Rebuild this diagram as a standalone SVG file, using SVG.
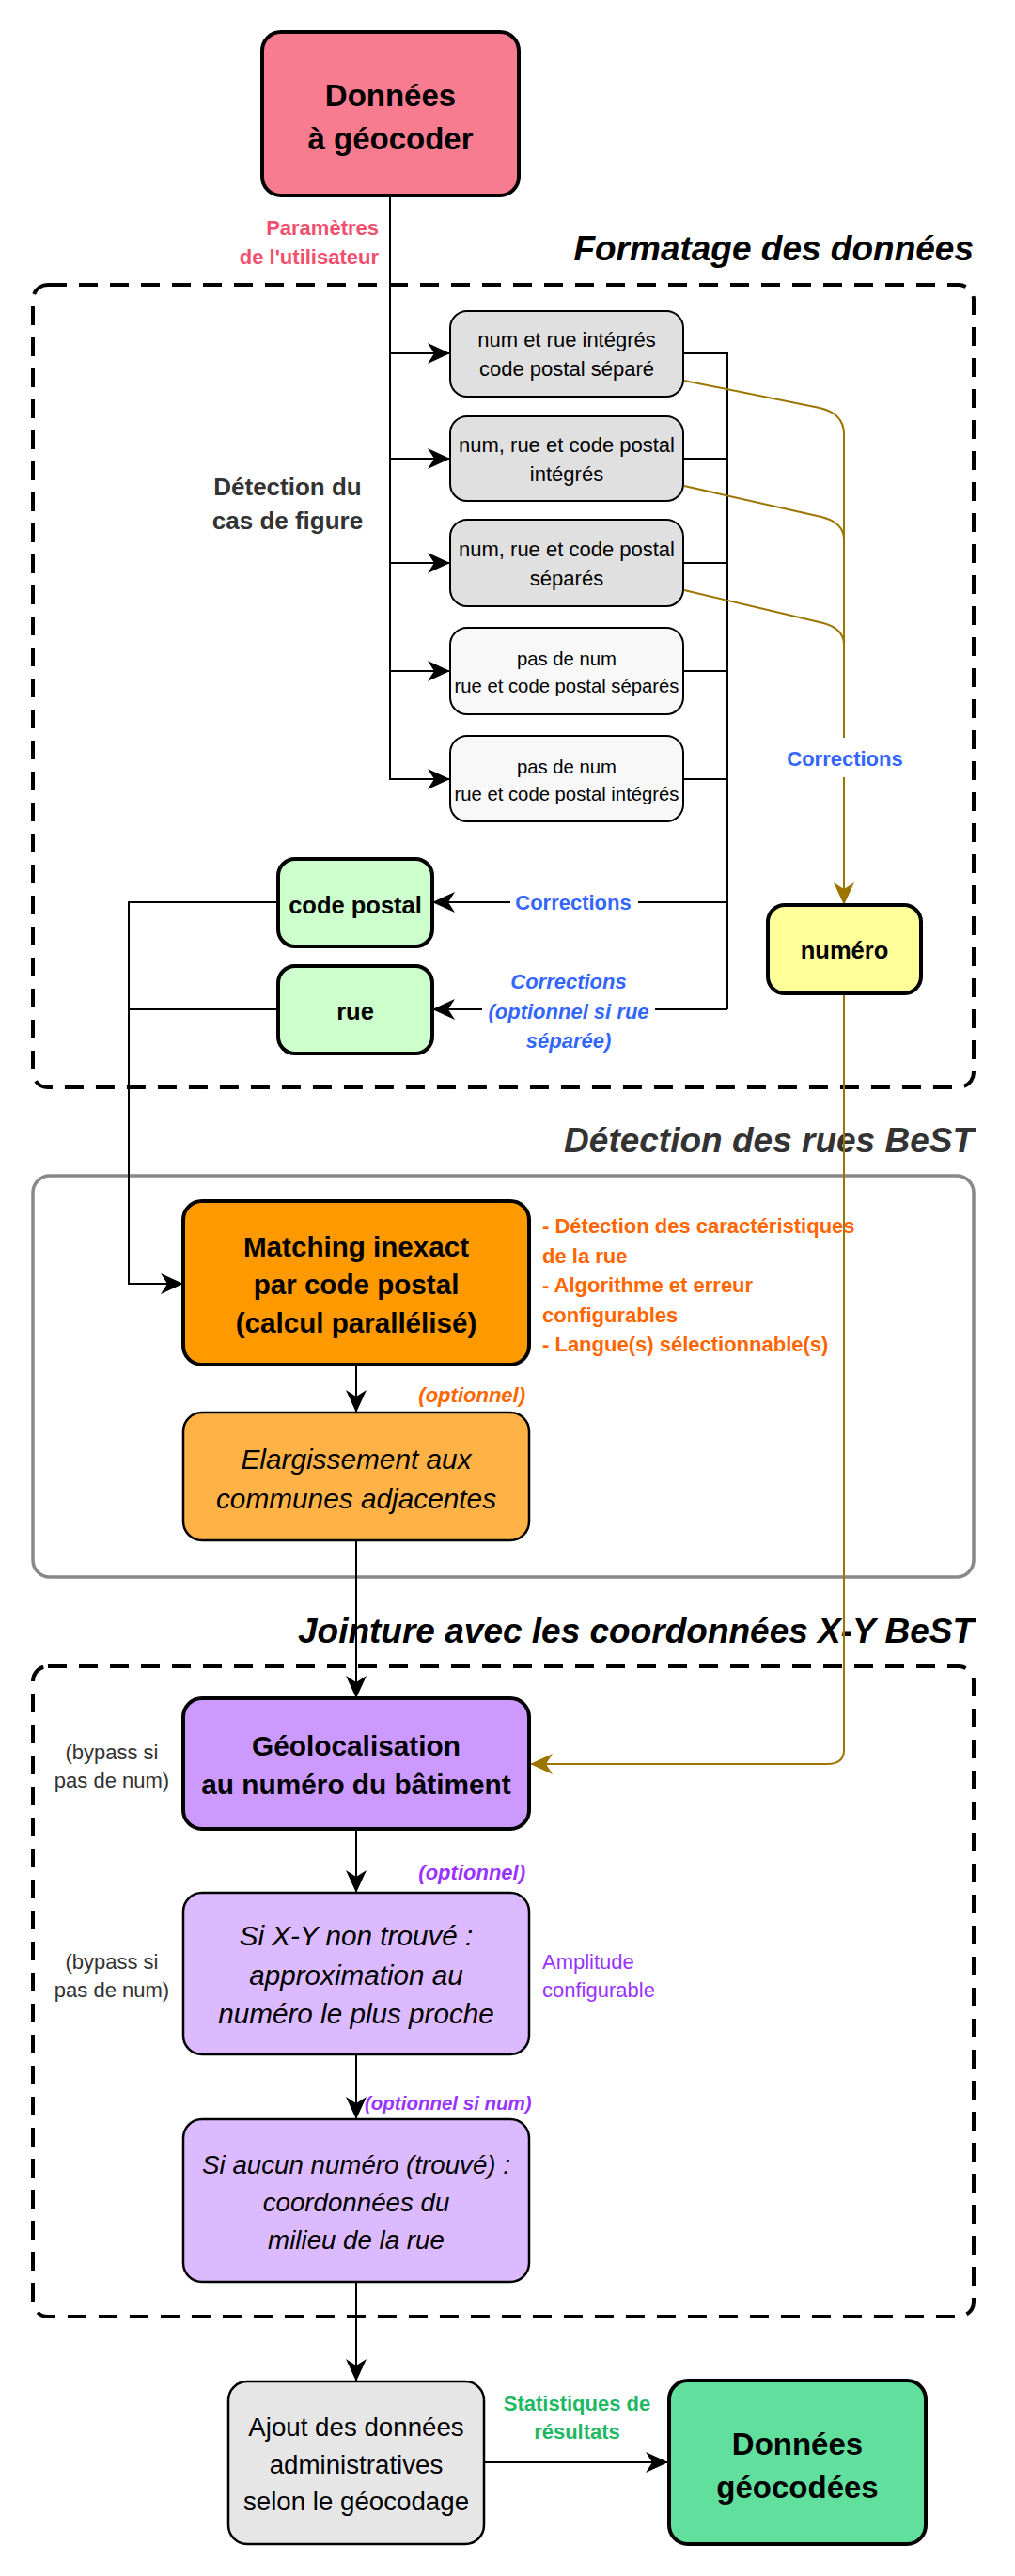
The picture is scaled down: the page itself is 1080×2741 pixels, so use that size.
<svg xmlns="http://www.w3.org/2000/svg" width="1080" height="2741" viewBox="0 0 1080 2741">
<style>
text{font-family:'Liberation Sans',Arial,Helvetica,sans-serif;}
.b{font-weight:bold}
.i{font-style:italic}
.m{text-anchor:middle}
.e{text-anchor:end}
.c{fill:none;stroke:#000;stroke-width:2}
.g{fill:none;stroke:#9C7500;stroke-width:2}
.dash{fill:none;stroke:#000;stroke-width:4;stroke-dasharray:20 13}
</style>
<defs>
<marker id="ab" markerUnits="userSpaceOnUse" markerWidth="24" markerHeight="22" refX="24" refY="11" orient="auto"><path d="M0,0 L24,11 L0,22 L7,11 Z" fill="#000"/></marker>
<marker id="ag" markerUnits="userSpaceOnUse" markerWidth="24" markerHeight="22" refX="24" refY="11" orient="auto"><path d="M0,0 L24,11 L0,22 L7,11 Z" fill="#9C7500"/></marker>
</defs>
<rect width="1080" height="2741" fill="#fff"/>

<g id="containers">
<rect class="dash" x="35" y="303" width="1001" height="854" rx="16"/>
<rect x="35" y="1251" width="1001" height="427" rx="18" fill="none" stroke="#888" stroke-width="3.5"/>
<rect class="dash" x="35" y="1773" width="1001" height="692" rx="16"/>
<text class="b i e" x="1036" y="277" font-size="37">Formatage des données</text>
<text class="b i e" x="1036" y="1226" font-size="37" fill="#333">Détection des rues BeST</text>
<text class="b i e" x="1036" y="1748" font-size="37">Jointure avec les coordonnées X-Y BeST</text>
</g>

<g id="connectors">
<path class="c" d="M415,208 V829 H479" stroke-width="2.5" marker-end="url(#ab)"/>
<path class="c" d="M415,376 H479" marker-end="url(#ab)"/>
<path class="c" d="M415,488 H479" marker-end="url(#ab)"/>
<path class="c" d="M415,599 H479" marker-end="url(#ab)"/>
<path class="c" d="M415,714 H479" marker-end="url(#ab)"/>
<path class="c" d="M727,376 H774 V1074" stroke-width="2.5"/>
<path class="c" d="M727,488 H774"/>
<path class="c" d="M727,599 H774"/>
<path class="c" d="M727,714 H774"/>
<path class="c" d="M727,829 H774"/>
<path class="c" d="M774,960 H679"/>
<path class="c" d="M543,960 H460" marker-end="url(#ab)"/>
<path class="c" d="M774,1074 H697" stroke-width="3"/>
<path class="c" d="M513,1074 H460" stroke-width="3" marker-end="url(#ab)"/>
<path class="c" d="M296,960 H137 V1366 H195" marker-end="url(#ab)"/>
<path class="c" d="M296,1074 H137"/>
<path class="c" d="M379,1452 V1503" marker-end="url(#ab)"/>
<path class="c" d="M379,1639 V1807" marker-end="url(#ab)"/>
<path class="c" d="M379,1946 V2014" marker-end="url(#ab)"/>
<path class="c" d="M379,2186 V2255" marker-end="url(#ab)"/>
<path class="c" d="M379,2428 V2534" marker-end="url(#ab)"/>
<path class="c" d="M515,2620 H711" marker-end="url(#ab)"/>
<path class="g" d="M728,405 L872,434 Q898,440 898,462 V785"/>
<path class="g" d="M728,517 L874,550 Q898,556 898,574"/>
<path class="g" d="M728,628 L876,663 Q898,669 898,686"/>
<path class="g" d="M898,827 V963" marker-end="url(#ag)"/>
<path class="g" d="M898,1057 V1862 Q898,1877 880,1877 H564" marker-end="url(#ag)"/>
<text class="b e" x="403" y="250" font-size="22" fill="#F24E6E">Paramètres</text>
<text class="b e" x="403" y="281" font-size="22" fill="#F24E6E">de l'utilisateur</text>
<text class="b m" x="306" y="527" font-size="26" fill="#333">Détection du</text>
<text class="b m" x="306" y="563" font-size="26" fill="#333">cas de figure</text>
<text class="b m" x="899" y="815" font-size="22" fill="#3366FF">Corrections</text>
<text class="b m" x="610" y="968" font-size="22" fill="#3366FF">Corrections</text>
<text class="b i m" x="605" y="1052" font-size="22" fill="#3366FF">Corrections</text>
<text class="b i m" x="605" y="1084" font-size="22" fill="#3366FF">(optionnel si rue</text>
<text class="b i m" x="605" y="1115" font-size="22" fill="#3366FF">séparée)</text>
<text class="b" x="577" y="1312" font-size="22" fill="#FF6600">- Détection des caractéristiques</text>
<text class="b" x="577" y="1344" font-size="22" fill="#FF6600">de la rue</text>
<text class="b" x="577" y="1375" font-size="22" fill="#FF6600">- Algorithme et erreur</text>
<text class="b" x="577" y="1407" font-size="22" fill="#FF6600">configurables</text>
<text class="b" x="577" y="1438" font-size="22" fill="#FF6600">- Langue(s) sélectionnable(s)</text>
<text class="b i e" x="559" y="1492" font-size="22" fill="#FF6600">(optionnel)</text>
<text class="m" x="119" y="1872" font-size="22" fill="#333">(bypass si</text>
<text class="m" x="119" y="1902" font-size="22" fill="#333">pas de num)</text>
<text class="b i e" x="559" y="2000" font-size="22" fill="#9933FF">(optionnel)</text>
<text class="m" x="119" y="2095" font-size="22" fill="#333">(bypass si</text>
<text class="m" x="119" y="2125" font-size="22" fill="#333">pas de num)</text>
<text x="577" y="2095" font-size="22" fill="#9933FF">Amplitude</text>
<text x="577" y="2125" font-size="22" fill="#9933FF">configurable</text>
<text class="b i" x="388" y="2245" font-size="20.5" fill="#9933FF">(optionnel si num)</text>
<text class="b m" x="614" y="2565" font-size="22" fill="#20B863">Statistiques de</text>
<text class="b m" x="614" y="2595" font-size="22" fill="#20B863">résultats</text>
</g>

<g id="n-donnees">
<rect x="279" y="34" width="273" height="174" rx="20" fill="#F87C8F" stroke="#000" stroke-width="4"/>
<text class="b m" x="415.5" y="113" font-size="33">Données</text>
<text class="b m" x="415.5" y="159" font-size="33">à géocoder</text>
</g>
<g id="n-case1">
<rect x="479" y="331" width="248" height="91" rx="18" fill="#E0E0E0" stroke="#000" stroke-width="2"/>
<text class="m" x="603" y="369" font-size="22">num et rue intégrés</text>
<text class="m" x="603" y="400" font-size="22">code postal séparé</text>
</g>
<g id="n-case2">
<rect x="479" y="443" width="248" height="90" rx="18" fill="#E0E0E0" stroke="#000" stroke-width="2"/>
<text class="m" x="603" y="481" font-size="22">num, rue et code postal</text>
<text class="m" x="603" y="512" font-size="22">intégrés</text>
</g>
<g id="n-case3">
<rect x="479" y="553" width="248" height="92" rx="18" fill="#E0E0E0" stroke="#000" stroke-width="2"/>
<text class="m" x="603" y="592" font-size="22">num, rue et code postal</text>
<text class="m" x="603" y="623" font-size="22">séparés</text>
</g>
<g id="n-case4">
<rect x="479" y="668" width="248" height="92" rx="18" fill="#F8F8F8" stroke="#000" stroke-width="2"/>
<text class="m" x="603" y="708" font-size="20.3">pas de num</text>
<text class="m" x="603" y="737" font-size="20.3">rue et code postal séparés</text>
</g>
<g id="n-case5">
<rect x="479" y="783" width="248" height="91" rx="18" fill="#F8F8F8" stroke="#000" stroke-width="2"/>
<text class="m" x="603" y="823" font-size="20.3">pas de num</text>
<text class="m" x="603" y="852" font-size="20.3">rue et code postal intégrés</text>
</g>
<g id="n-codepostal">
<rect x="296" y="914" width="164" height="93" rx="18" fill="#CCFFCC" stroke="#000" stroke-width="4"/>
<text class="b m" x="378" y="972" font-size="25.5">code postal</text>
</g>
<g id="n-rue">
<rect x="296" y="1028" width="164" height="93" rx="18" fill="#CCFFCC" stroke="#000" stroke-width="4"/>
<text class="b m" x="378" y="1085" font-size="25.5">rue</text>
</g>
<g id="n-numero">
<rect x="817" y="963" width="163" height="94" rx="18" fill="#FFFF99" stroke="#000" stroke-width="4"/>
<text class="b m" x="898.5" y="1020" font-size="25.5">numéro</text>
</g>
<g id="n-matching">
<rect x="195" y="1278" width="368" height="174" rx="20" fill="#FF9900" stroke="#000" stroke-width="4"/>
<text class="b m" x="379" y="1337" font-size="29.6">Matching inexact</text>
<text class="b m" x="379" y="1377" font-size="29.6">par code postal</text>
<text class="b m" x="379" y="1418" font-size="29.6">(calcul parallélisé)</text>
</g>
<g id="n-elargissement">
<rect x="195" y="1503" width="368" height="136" rx="20" fill="#FFB347" stroke="#000" stroke-width="2.5"/>
<text class="i m" x="379" y="1563" font-size="29.8">Elargissement aux</text>
<text class="i m" x="379" y="1605" font-size="29.8">communes adjacentes</text>
</g>
<g id="n-geoloc">
<rect x="195" y="1807" width="368" height="139" rx="20" fill="#CC99FF" stroke="#000" stroke-width="4"/>
<text class="b m" x="379" y="1868" font-size="29.8">Géolocalisation</text>
<text class="b m" x="379" y="1909" font-size="29.8">au numéro du bâtiment</text>
</g>
<g id="n-sixy">
<rect x="195" y="2014" width="368" height="172" rx="20" fill="#DCBAFF" stroke="#000" stroke-width="2.5"/>
<text class="i m" x="379" y="2070" font-size="29.7">Si X-Y non trouvé :</text>
<text class="i m" x="379" y="2112" font-size="29.7">approximation au</text>
<text class="i m" x="379" y="2153" font-size="29.7">numéro le plus proche</text>
</g>
<g id="n-siaucun">
<rect x="195" y="2255" width="368" height="173" rx="20" fill="#DCBAFF" stroke="#000" stroke-width="2.5"/>
<text class="i m" x="379" y="2313" font-size="27.7">Si aucun numéro (trouvé) :</text>
<text class="i m" x="379" y="2353" font-size="27.7">coordonnées du</text>
<text class="i m" x="379" y="2393" font-size="27.7">milieu de la rue</text>
</g>
<g id="n-ajout">
<rect x="243" y="2534" width="272" height="173" rx="20" fill="#E6E6E6" stroke="#000" stroke-width="2.5"/>
<text class="m" x="379" y="2592" font-size="27.7">Ajout des données</text>
<text class="m" x="379" y="2632" font-size="27.7">administratives</text>
<text class="m" x="379" y="2671" font-size="27.7">selon le géocodage</text>
</g>
<g id="n-geocodees">
<rect x="712" y="2533" width="273" height="174" rx="20" fill="#61DF9D" stroke="#000" stroke-width="4"/>
<text class="b m" x="848.5" y="2612" font-size="33">Données</text>
<text class="b m" x="848.5" y="2658" font-size="33">géocodées</text>
</g>
</svg>
